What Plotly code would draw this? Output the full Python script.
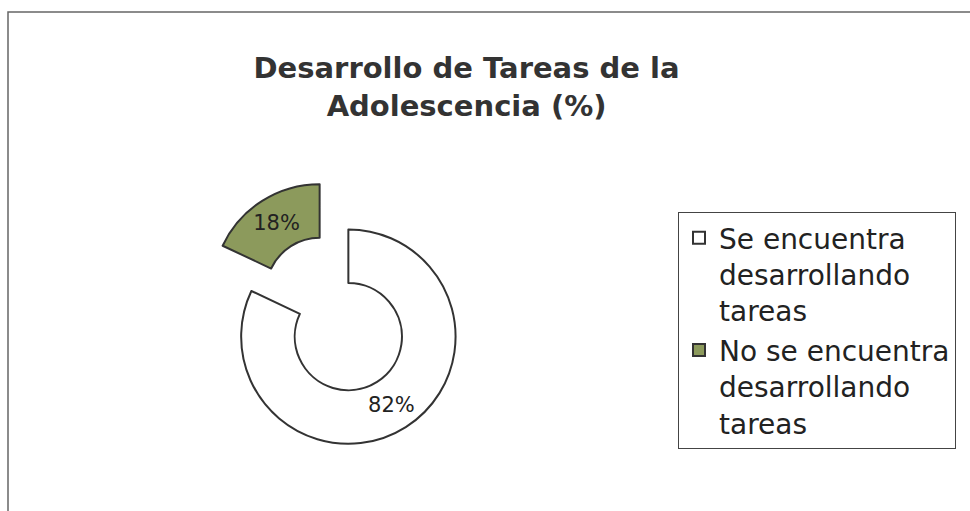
import plotly.graph_objects as go

# data
labels = ["Se encuentra<br>desarrollando<br>tareas", "No se encuentra<br>desarrollando<br>tareas"]
values = [82, 18]
colors = ["#ffffff", "#8c9a5c"]
pulls = [0.25, 0.25]

W, H = 970, 511


def px_x(v):
    return v / W


def px_y(v):
    return 1 - v / H


fig = go.Figure()

fig.add_trace(go.Pie(
    labels=labels,
    values=values,
    hole=0.5,
    sort=False,
    direction="clockwise",
    rotation=0,
    pull=pulls,
    marker=dict(colors=colors, line=dict(color="#333333", width=2)),
    textinfo="percent",
    textposition="inside",
    insidetextorientation="horizontal",
    textfont=dict(family="DejaVu Sans", size=21, color="#222222"),
    domain=dict(x=[px_x(198), px_x(470)], y=[px_y(448), px_y(180)]),
    hoverinfo="label+percent",
))

# chart area frame (scan shows left and top edges)
fig.add_shape(type="rect", xref="paper", yref="paper",
              x0=px_x(8), x1=1.05, y0=-0.05, y1=px_y(12),
              line=dict(color="#666666", width=1.5))

fig.update_layout(
    width=W, height=H,
    margin=dict(l=0, r=0, t=0, b=0),
    paper_bgcolor="white",
    plot_bgcolor="white",
    font=dict(family="DejaVu Sans", color="#222222"),
    title=dict(
        text="<b>Desarrollo de Tareas de la<br>Adolescencia (%)</b>",
        x=0.481, xanchor="center",
        y=px_y(78), yanchor="top",
        font=dict(family="DejaVu Sans", size=29, color="#333333"),
    ),
    legend=dict(
        x=px_x(678), y=px_y(212), xanchor="left", yanchor="top",
        bordercolor="#444444", borderwidth=1,
        bgcolor="white",
        valign="top",
        font=dict(family="DejaVu Sans", size=28, color="#222222"),
        tracegroupgap=4,
    ),
)

fig.write_html("out.html", config={"displayModeBar": False},
               post_script="document.body.style.margin='0';")
